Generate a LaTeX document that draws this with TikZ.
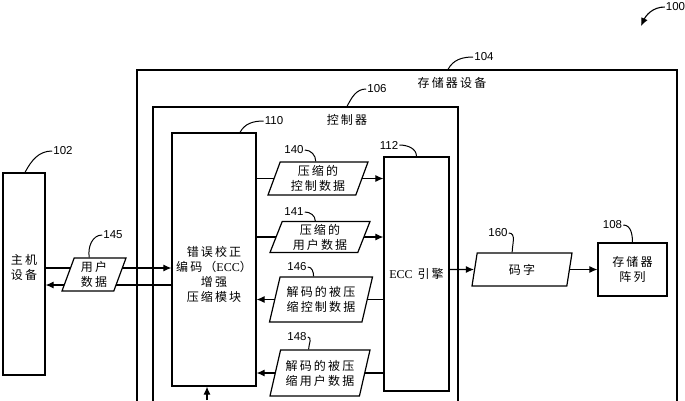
\documentclass[tikz,border=0pt]{standalone}
\usepackage{fontspec}
\setmainfont{Liberation Serif}
\newfontfamily\cjk[LetterSpace=18]{Noto Sans CJK SC}
\newfontfamily\numfont{Liberation Sans}
\newcommand\cjktext{\cjk\fontsize{12}{15}\selectfont}
\usetikzlibrary{arrows.meta,shapes.geometric,backgrounds}
\begin{document}
\begin{tikzpicture}[x=1pt,y=1pt]
\tikzset{
 box/.style={draw, line width=1.2pt, inner sep=0pt, align=center, font=\cjktext},
 para/.style={trapezium, trapezium stretches body, draw, fill=white, line width=1.2pt, inner sep=0pt, align=center, font=\cjktext},
 arr/.style={line width=1.1pt, -{Latex[length=8pt,width=7pt]}},
 lead/.style={line width=1pt},
 num/.style={font=\numfont\fontsize{11.5}{13}\selectfont, inner sep=1pt},
 txt/.style={font=\cjktext, align=center, inner sep=0pt}
}
\useasboundingbox (0,0) rectangle (685,400);

% boxes
\node[box, minimum width=540, minimum height=350] (outer) at (407,155) {};
\node[txt] (outert) at (452,317) {存储器设备};
\node[box, minimum width=305, minimum height=313] (ctrl) at (305.5,136.5) {};
\node[txt] (ctrlt) at (347,280) {控制器};
\node[box, minimum width=42, minimum height=202] (host) at (24,126) {};
\node[txt] (hostt) at (24,133) {主机\\设备};
\node[box, minimum width=84, minimum height=253] (module) at (214,140.5) {};
\node[txt] (modt) at (214,126) {错误校正\\编码（{\rmfamily ECC}）\\增强\\压缩模块};
\node[box, minimum width=65, minimum height=234] (engine) at (416.5,126) {{\rmfamily ECC} 引擎};
\node[box, minimum width=69, minimum height=53] (array) at (632.5,130.5) {存储器\\阵列};

% parallelograms
\node[para, trapezium left angle=65, trapezium right angle=115, minimum width=64, minimum height=33] (p145) at (94,125.5) {用户\\数据};
\node[para, trapezium left angle=65, trapezium right angle=115, minimum width=100, minimum height=33] (p140) at (318,221.5) {压缩的\\控制数据};
\node[para, trapezium left angle=65, trapezium right angle=115, minimum width=100, minimum height=31] (p141) at (320,163) {压缩的\\用户数据};
\node[para, trapezium left angle=68, trapezium right angle=112, minimum width=103, minimum height=45] (p146) at (321,100.5) {解码的被压\\缩控制数据};
\node[para, trapezium left angle=68, trapezium right angle=112, minimum width=100, minimum height=46] (p148) at (320,27) {解码的被压\\缩用户数据};
\node[para, trapezium left angle=65, trapezium right angle=115, minimum width=100, minimum height=33] (p160) at (522,130.5) {码字};

% labels
\node[num] (l100) at (675.5,393) {100};
\node[num] (l104) at (484,343) {104};
\node[num] (l106) at (377,311) {106};
\node[num] (l110) at (274,279) {110};
\node[num] (l102) at (63,249) {102};
\node[num] (l145) at (113,165) {145};
\node[num] (l140) at (294,250) {140};
\node[num] (l141) at (294,188) {141};
\node[num] (l146) at (297,133) {146};
\node[num] (l148) at (297,63) {148};
\node[num] (l112) at (389,255) {112};
\node[num] (l160) at (498,167) {160};
\node[num] (l108) at (612.5,175) {108};

% leaders
\draw[lead] ([xshift=41pt]outer.north) to[out=62,in=180] (l104.west);
\draw[lead] ([xshift=41.5pt]ctrl.north) to[out=62,in=180] (l106.west);
\draw[lead] ([xshift=26pt]module.north) to[out=62,in=180] (l110.west);
\draw[lead] ([xshift=1pt]host.north) to[out=62,in=180] (l102.west);
\draw[lead] ([xshift=15.5pt]p145.top left corner) to[out=100,in=180] (l145.west);
\draw[lead] (l140.east) to[out=0,in=90] ([xshift=36pt]p140.top left corner);
\draw[lead] (l141.east) to[out=0,in=90] ([xshift=33.5pt]p141.top left corner);
\draw[lead] (l146.east) to[out=0,in=90] ([xshift=34pt]p146.top left corner);
\draw[lead] (l148.east) to[out=0,in=90] ([xshift=28.5pt]p148.top left corner);
\draw[lead] (l160.east) to[out=0,in=90] ([xshift=35.5pt]p160.top left corner);
\draw[lead] (l112.east) to[out=0,in=90] (engine.north);
\draw[lead] (l108.east) to[out=0,in=90] (array.north);
\coordinate (c100) at (641,374);
\draw[arr] (l100.west) to[out=180,in=65] (c100);

% connectors
\coordinate (h1) at ([yshift=6pt]host.east);
\coordinate (h2) at ([yshift=-11pt]host.east);
\coordinate (bin) at (207,0);
\begin{scope}[on background layer]
\draw[arr] (h1) -- (h1 -| module.west);
\draw[arr] (h2 -| module.west) -- (h2);
\draw[arr] (p140 -| module.east) -- (p140 -| engine.west);
\draw[arr] (p141 -| module.east) -- (p141 -| engine.west);
\draw[arr] (p146 -| engine.west) -- (p146 -| module.east);
\draw[arr] (p148 -| engine.west) -- (p148 -| module.east);
\draw[arr] (engine.east |- p160) -- (p160.west);
\draw[arr] (p160.east) -- (p160.east -| array.west);
\draw[arr] (bin) -- (bin |- module.south);
\end{scope}
\end{tikzpicture}
\end{document}
